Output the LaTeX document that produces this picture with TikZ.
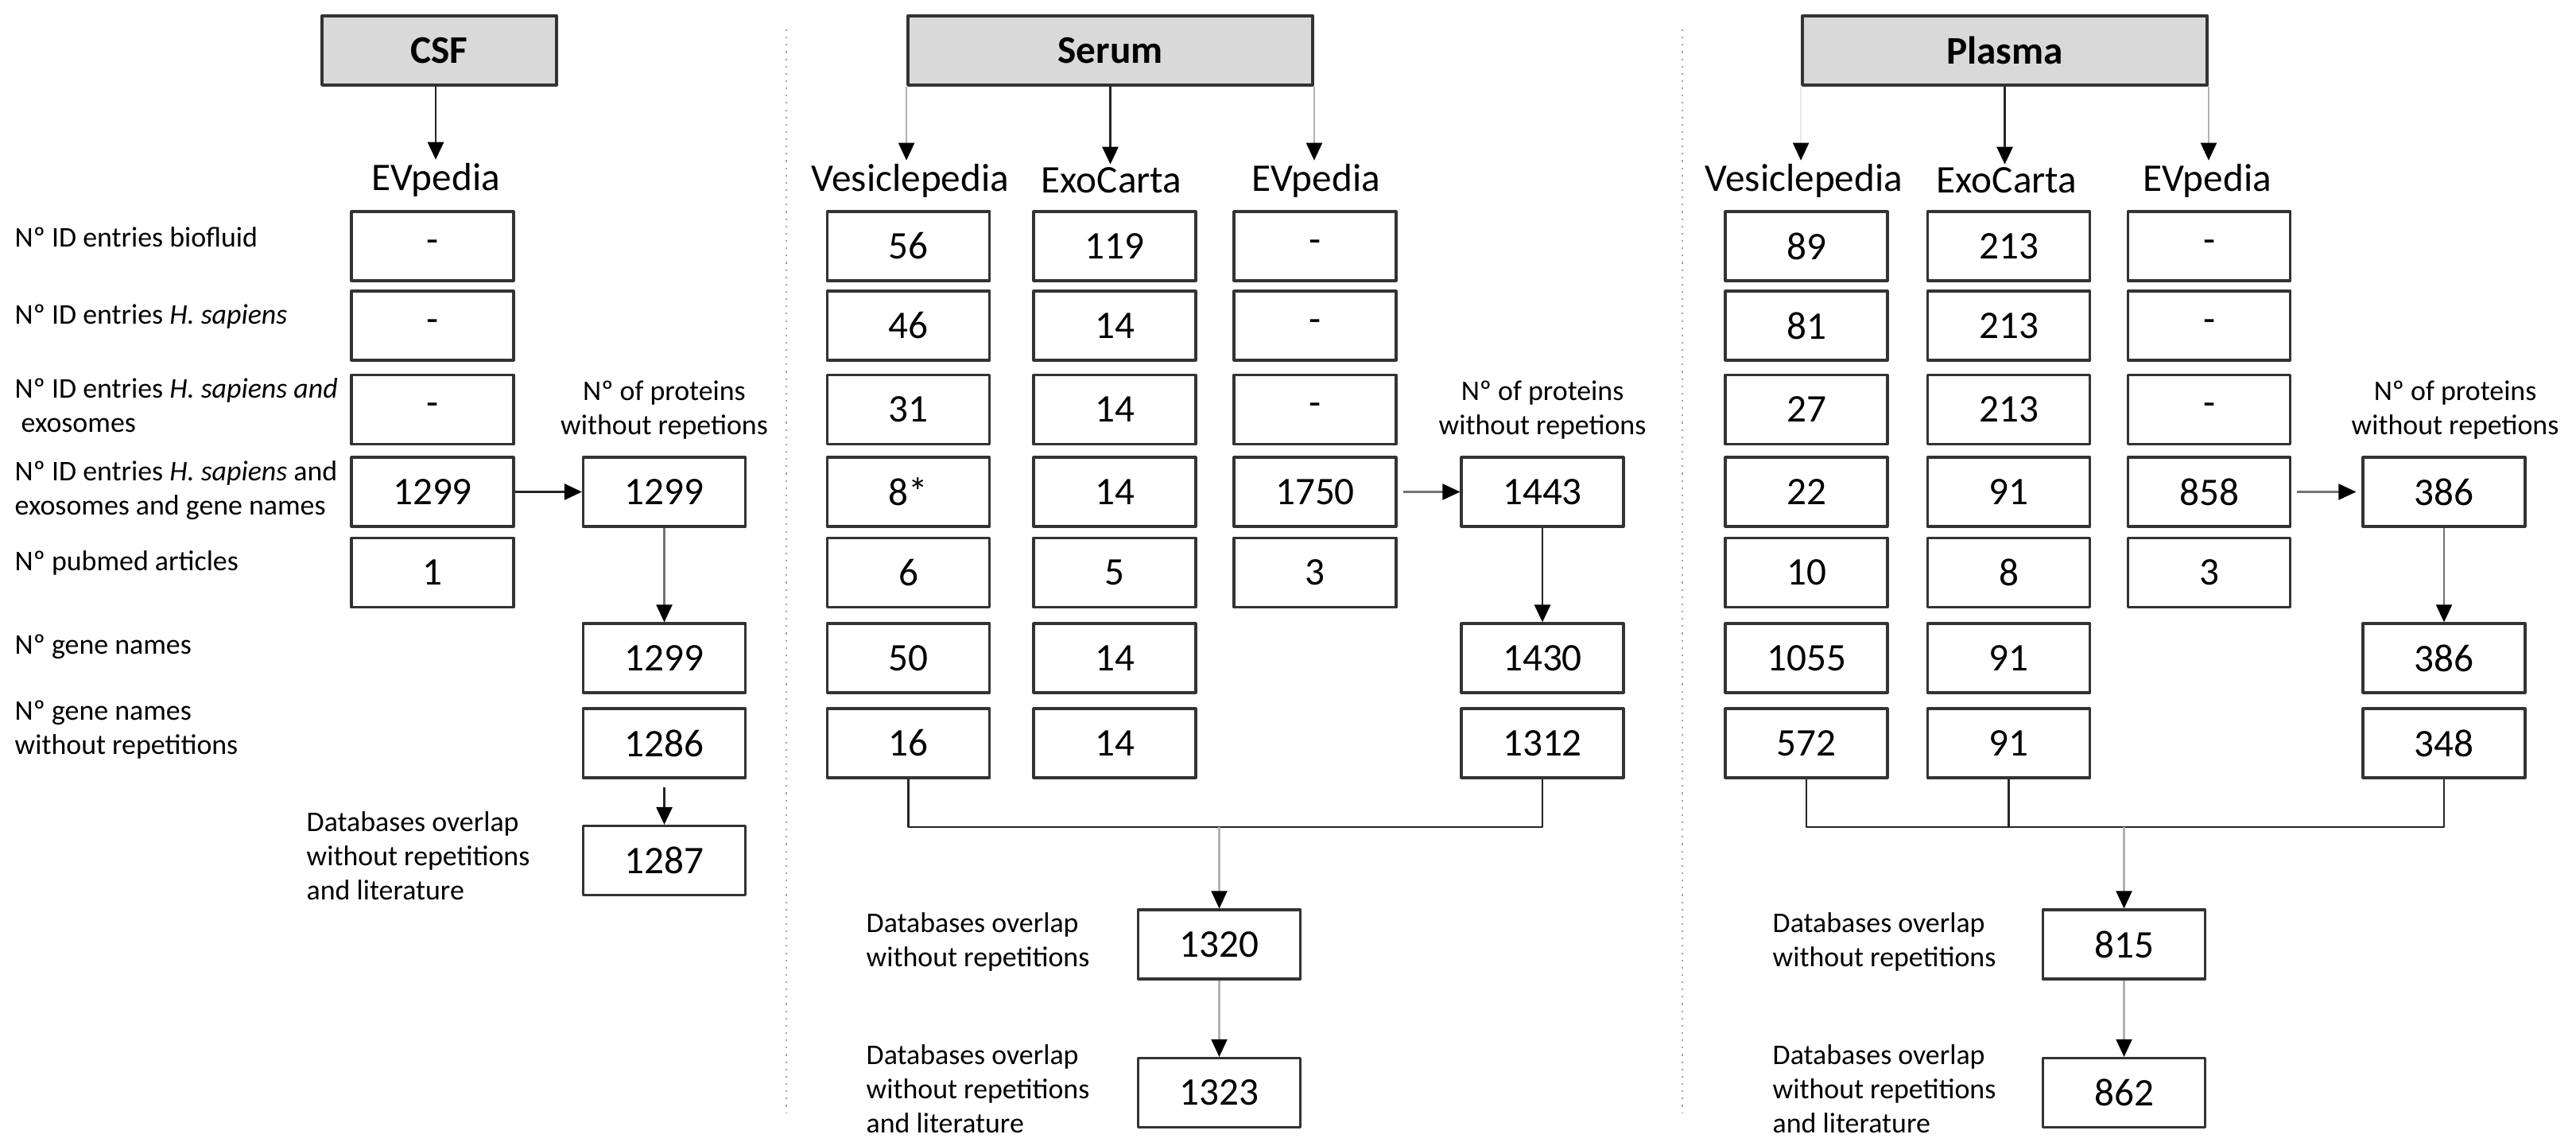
\documentclass[tikz,border=0pt]{standalone}
\usepackage{fontspec}
\setmainfont{Carlito}
\usetikzlibrary{arrows.meta}
\begin{document}
\begin{tikzpicture}[line join=round,>={Triangle[length=2.2mm,width=2mm,black]},
	hop/.style={draw=black!80,line width=0.9pt,minimum width=2.04cm,minimum height=0.87cm,inner sep=0pt,font=\fontsize{14}{16}\selectfont},
	tieude/.style={hop,fill=black!15,line width=1.1pt,font=\fontsize{14}{16}\selectfont\bfseries},
	ten/.style={font=\fontsize{14}{16}\selectfont,inner sep=1pt},
	nhan/.style={font=\fontsize{10.2}{12.2}\selectfont,align=left,anchor=west,inner sep=0pt},
	nhanc/.style={font=\fontsize{10.2}{12.2}\selectfont,align=center,inner sep=0pt},
	noi/.style={black!85,line width=0.8pt},
	den/.style={noi,->},
	xam/.style={->,black!55,line width=0.6pt},
	nhat/.style={->,black!30,line width=0.6pt}]
	\useasboundingbox (0,0) rectangle (32.4,-14.36);
	\draw[black!35,dotted,line width=0.6pt] (9.89,-0.37)--(9.89,-14.0) (21.16,-0.37)--(21.16,-14.0); % đường chia
	% nhãn hàng
	\path 
	(0.18,-2.98) node[nhan] (h1) {Nº ID entries biofluid}
	(0.18,-3.98) node[nhan] (h2) {Nº ID entries \textit{H. sapiens}}
	(0.18,-5.10) node[nhan] (h3) {Nº ID entries \textit{H. sapiens and}\\\hspace{0.08cm}exosomes}
	(0.18,-6.165) node[nhan] (h4) {Nº ID entries \textit{H. sapiens} and\\exosomes and gene names}
	(0.18,-7.08) node[nhan] (h5) {Nº pubmed articles}
	(0.18,-8.13) node[nhan] (h6) {Nº gene names}
	(0.18,-9.175) node[nhan] (h7) {Nº gene names\\without repetitions};
	% CSF
	\path 
	(5.525,-0.635) node[tieude,minimum width=2.95cm] (csf) {CSF}
	(5.48,-2.26) node[ten] (cE) {EVpedia}
	(5.44,-3.095) node[hop] (cE1) {-}
	(5.44,-4.095) node[hop] (cE2) {-}
	(5.44,-5.15) node[hop] (cE3) {-}
	(5.44,-6.185) node[hop] (cE4) {1299}
	(5.44,-7.2) node[hop] (cE5) {1}
	(8.355,-5.16) node[nhanc] (cP) {Nº of proteins\\without repetions}
	(8.355,-6.185) node[hop] (cP4) {1299}
	(8.355,-8.275) node[hop] (cP6) {1299}
	(8.355,-9.345) node[hop] (cP7) {1286}
	(8.355,-10.82) node[hop] (cDL) {1287}
	(3.85,-10.76) node[nhan] (cDLt) {Databases overlap\\without repetitions\\and literature};
	\draw[den] (cE.north |- csf.south) -- (cE.north);
	\draw[den] (cE4) -- (cP4);
	\draw[xam] (cP4) -- (cP6);
	\draw[den,shorten <=0.1cm] (cP7) -- (cDL);
	% Serum
	\path 
	(13.965,-0.635) node[tieude,minimum width=5.09cm] (sr) {Serum}
	(11.45,-2.27) node[ten] (sV) {Vesiclepedia}
	(13.98,-2.27) node[ten] (sX) {ExoCarta}
	(16.55,-2.27) node[ten] (sE) {EVpedia}
	(11.425,-3.095) node[hop] (sV1) {56}
	(11.425,-4.095) node[hop] (sV2) {46}
	(11.425,-5.15) node[hop] (sV3) {31}
	(11.425,-6.185) node[hop] (sV4) {8*}
	(11.425,-7.2) node[hop] (sV5) {6}
	(11.425,-8.275) node[hop] (sV6) {50}
	(11.425,-9.345) node[hop] (sV7) {16}
	(14.02,-3.095) node[hop] (sX1) {119}
	(14.02,-4.095) node[hop] (sX2) {14}
	(14.02,-5.15) node[hop] (sX3) {14}
	(14.02,-6.185) node[hop] (sX4) {14}
	(14.02,-7.2) node[hop] (sX5) {5}
	(14.02,-8.275) node[hop] (sX6) {14}
	(14.02,-9.345) node[hop] (sX7) {14}
	(16.54,-3.095) node[hop] (sE1) {-}
	(16.54,-4.095) node[hop] (sE2) {-}
	(16.54,-5.15) node[hop] (sE3) {-}
	(16.54,-6.185) node[hop] (sE4) {1750}
	(16.54,-7.2) node[hop] (sE5) {3}
	(19.4,-5.16) node[nhanc] (sP) {Nº of proteins\\without repetions}
	(19.4,-6.185) node[hop] (sP4) {1443}
	(19.4,-8.275) node[hop] (sP6) {1430}
	(19.4,-9.345) node[hop] (sP7) {1312}
	(15.335,-11.875) node[hop] (sD) {1320}
	(15.335,-13.74) node[hop] (sDL) {1323}
	(10.89,-11.84) node[nhan] (sDt) {Databases overlap\\without repetitions}
	(10.89,-13.69) node[nhan] (sDLt) {Databases overlap\\without repetitions\\and literature};
	\coordinate (sJ) at (15.335,-10.40);
	\draw[nhat] (sr.south west) -- (sr.south west |- sV.north);
	\draw[den] (sr.south) -- (sr.south |- sX.north);
	\draw[nhat] (sr.south east) -- (sr.south east |- sE.north);
	\draw[xam,shorten <=0.07cm] (sE4) -- (sP4);
	\draw[den] (sP4) -- (sP6);
	\draw[noi] (sV7.south) |- (sJ) -| (sP7.south);
	\draw[nhat] (sJ) -- (sD);
	\draw[nhat] (sD) -- (sDL);
	% Plasma
	\path 
	(25.215,-0.635) node[tieude,minimum width=5.09cm] (pl) {Plasma}
	(22.69,-2.27) node[ten] (pV) {Vesiclepedia}
	(25.24,-2.27) node[ten] (pX) {ExoCarta}
	(27.76,-2.27) node[ten] (pE) {EVpedia}
	(22.72,-3.095) node[hop] (pV1) {89}
	(22.72,-4.095) node[hop] (pV2) {81}
	(22.72,-5.15) node[hop] (pV3) {27}
	(22.72,-6.185) node[hop] (pV4) {22}
	(22.72,-7.2) node[hop] (pV5) {10}
	(22.72,-8.275) node[hop] (pV6) {1055}
	(22.72,-9.345) node[hop] (pV7) {572}
	(25.265,-3.095) node[hop] (pX1) {213}
	(25.265,-4.095) node[hop] (pX2) {213}
	(25.265,-5.15) node[hop] (pX3) {213}
	(25.265,-6.185) node[hop] (pX4) {91}
	(25.265,-7.2) node[hop] (pX5) {8}
	(25.265,-8.275) node[hop] (pX6) {91}
	(25.265,-9.345) node[hop] (pX7) {91}
	(27.785,-3.095) node[hop] (pE1) {-}
	(27.785,-4.095) node[hop] (pE2) {-}
	(27.785,-5.15) node[hop] (pE3) {-}
	(27.785,-6.185) node[hop] (pE4) {858}
	(27.785,-7.2) node[hop] (pE5) {3}
	(30.88,-5.16) node[nhanc] (pP) {Nº of proteins\\without repetions}
	(30.74,-6.185) node[hop] (pP4) {386}
	(30.74,-8.275) node[hop] (pP6) {386}
	(30.74,-9.345) node[hop] (pP7) {348}
	(26.715,-11.875) node[hop] (pD) {815}
	(26.715,-13.74) node[hop] (pDL) {862}
	(22.29,-11.84) node[nhan] (pDt) {Databases overlap\\without repetitions}
	(22.29,-13.69) node[nhan] (pDLt) {Databases overlap\\without repetitions\\and literature};
	\coordinate (pJ) at (26.715,-10.40);
	\draw[->,black!8,line width=0.6pt] (pl.south west) -- (pl.south west |- pV.north);
	\draw[den] (pl.south) -- (pl.south |- pX.north);
	\draw[nhat] (pl.south east) -- (pl.south east |- pE.north);
	\draw[xam,shorten <=0.07cm,shorten >=0.07cm] (pE4) -- (pP4);
	\draw[xam] (pP4) -- (pP6);
	\draw[noi] (pV7.south) |- (pJ) -| (pP7.south);
	\draw[noi] (pX7.south) -- (pX7.south |- pJ);
	\draw[nhat] (pJ) -- (pD);
	\draw[nhat] (pD) -- (pDL);
\end{tikzpicture}
\end{document}
